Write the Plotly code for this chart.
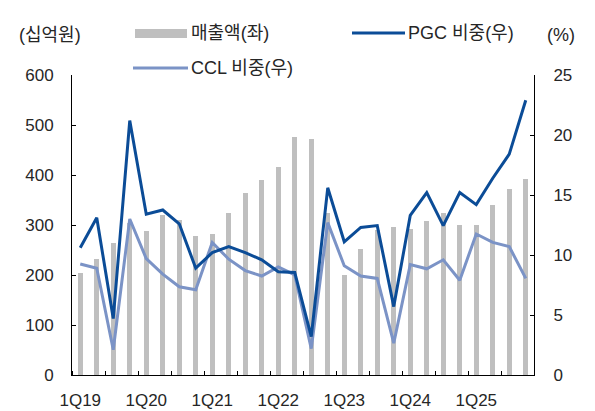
import plotly.graph_objects as go

분기 = list(range(28))
분기_라벨 = ['1Q19', '1Q20', '1Q21', '1Q22', '1Q23', '1Q24', '1Q25']
라벨_위치 = [0, 4, 8, 12, 16, 20, 24]

매출액 = [205, 233, 265, 305, 289, 321, 310, 278, 282, 325, 365, 390, 417, 477,
          473, 325, 201, 253, 290, 297, 293, 309, 325, 301, 301, 341, 373, 393]
pgc_비중 = [10.6, 13.1, 4.7, 21.2, 13.4, 13.75, 12.6, 8.9, 10.2, 10.7, 10.2, 9.6, 8.6, 8.55,
            3.2, 15.6, 11.1, 12.3, 12.45, 5.7, 13.3, 15.2, 12.45, 15.2, 14.2, 16.4, 18.4, 22.9]
ccl_비중 = [9.25, 8.9, 2.1, 13.0, 9.7, 8.4, 7.35, 7.1, 11.05, 9.65, 8.7, 8.25, 9.0, 8.35,
            2.2, 12.7, 9.1, 8.25, 8.05, 2.65, 9.2, 8.85, 9.6, 7.9, 11.75, 11.05, 10.7, 8.05]

회색 = '#BFBFBF'
진청 = '#0B4C97'
연청 = '#7B93C6'
글자색 = '#262626'
폰트 = 'Liberation Sans, Arial, Noto Sans CJK KR'

# 페이지 body 기본 여백(8px)만큼 그림이 밀리므로 보정
OFF = 8
W, H = 595 - OFF, 411 - OFF
L, R, T, B = 72, 534, 75, 375


def px(x):
    return (x - L) / (R - L)


def py(y):
    return (B - y) / (B - T)


fig = go.Figure()

fig.add_trace(go.Bar(x=분기, y=매출액, width=0.3, marker_color=회색,
                     marker_line_width=0, yaxis='y', showlegend=False))
fig.add_trace(go.Scatter(x=분기, y=ccl_비중, mode='lines', yaxis='y2',
                         line=dict(color=연청, width=3), showlegend=False))
fig.add_trace(go.Scatter(x=분기, y=pgc_비중, mode='lines', yaxis='y2',
                         line=dict(color=진청, width=3), showlegend=False))

fig.update_layout(
    width=W, height=H,
    paper_bgcolor='white', plot_bgcolor='white',
    margin=dict(l=L - OFF, r=595 - R, t=T - OFF, b=411 - B),
    font=dict(family=폰트, size=17, color=글자색),
    xaxis=dict(range=[-0.5, 27.5], tickvals=라벨_위치, ticktext=분기_라벨,
               ticks='', showgrid=False, zeroline=False, automargin=False,
               showline=True, linecolor='black', linewidth=1,
               ticklabelstandoff=10,
               minor=dict(ticks='inside', tick0=-0.5, dtick=2, ticklen=4,
                          tickcolor='black', showgrid=False)),
    yaxis=dict(range=[0, 600], dtick=100, showgrid=False, zeroline=False,
               showline=True, linecolor='black', linewidth=1, automargin=False,
               ticks='inside', ticklen=4, tickcolor='black',
               ticklabelstandoff=14),
    yaxis2=dict(range=[0, 25], dtick=5, overlaying='y', side='right',
                showgrid=False, zeroline=False, automargin=False,
                showline=True, linecolor='black', linewidth=1,
                ticks='inside', ticklen=4, tickcolor='black',
                ticklabelstandoff=15),
    bargap=0,
)

# 단위 표시
for 텍스트, x in [('(십억원)', 50), ('(%)', 561)]:
    fig.add_annotation(x=px(x), y=py(35), xref='paper', yref='paper', text=텍스트,
                       showarrow=False, xanchor='center', yanchor='middle',
                       font=dict(size=18))

# 범례
fig.add_shape(type='rect', xref='paper', yref='paper', x0=px(135), x1=px(187),
              y0=py(38), y1=py(29), fillcolor=회색, line_width=0)
fig.add_shape(type='line', xref='paper', yref='paper', x0=px(352), x1=px(405),
              y0=py(33), y1=py(33), line=dict(color=진청, width=3))
fig.add_shape(type='line', xref='paper', yref='paper', x0=px(133), x1=px(188),
              y0=py(68), y1=py(68), line=dict(color=연청, width=3))

for 텍스트, x, y in [('매출액(좌)', 189, 33), ('PGC 비중(우)', 406, 33), ('CCL 비중(우)', 189, 68)]:
    fig.add_annotation(x=px(x), y=py(y), xref='paper', yref='paper', text=텍스트,
                       showarrow=False, xanchor='left', yanchor='middle',
                       font=dict(size=18))

fig.write_html('out.html')
